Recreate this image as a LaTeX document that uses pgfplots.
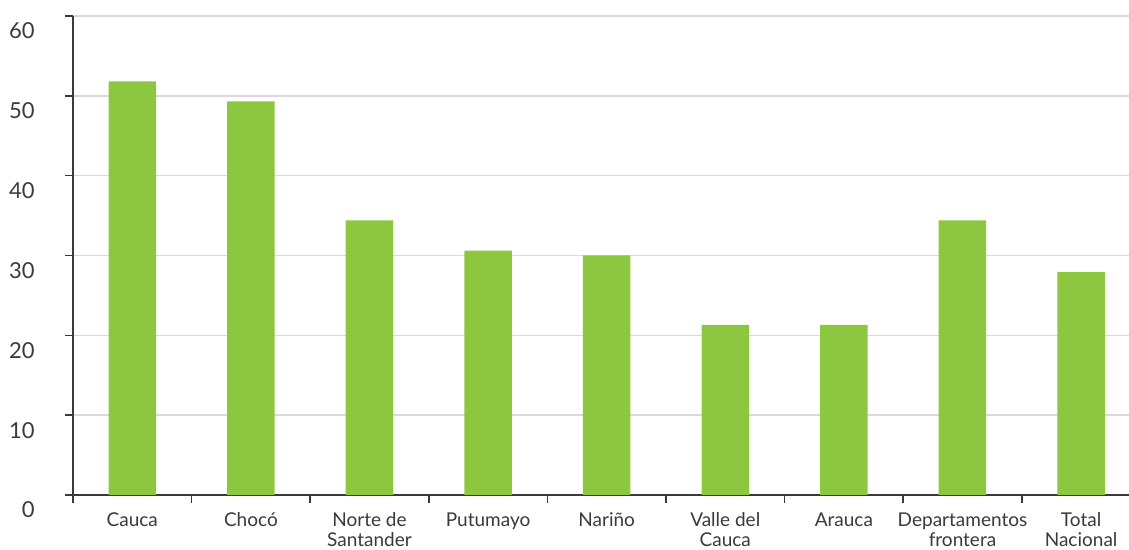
\documentclass[border=0pt]{standalone}
\usepackage{pgfplots}
\pgfplotsset{compat=1.18}
\usepackage{fontspec}
\setmainfont{Lato}
\definecolor{barg}{HTML}{8DC63F}
\definecolor{txt}{HTML}{3A3A3A}
\definecolor{gridc}{HTML}{DADADA}
\newcommand\sx{\rule{0pt}{9pt}}
\begin{document}
\begin{tikzpicture}
\useasboundingbox (-36.5pt,-27.5pt) rectangle (528pt,247.5pt);
\begin{axis}[
  at={(0pt,0pt)}, anchor=south west,
  width=528pt, height=239.5pt, scale only axis,
  xmin=-0.5, xmax=8.404, ymin=0, ymax=60,
  axis lines=left, axis line style={-, draw=txt, line width=0.75pt},
  ytick={0,10,...,60}, ymajorgrids, grid style={draw=gridc, line width=0.75pt},
  xtick={-0.5,0.5,...,7.5}, xticklabels={},
  tick align=outside, major tick length=4pt, tick style={draw=txt, line width=0.75pt},
  /pgf/number format/assume math mode=true,
  yticklabel style={anchor=east, inner sep=0pt, xshift=-15pt, yshift=-7.5pt, text=txt, font=\fontsize{11}{11}\selectfont},
  extra x ticks={0,1,2,3,4,5,6,7,8},
  extra x tick labels={\sx Cauca,\sx Chocó,{\sx Norte de\\Santander},\sx Putumayo,\sx Nariño,{\sx Valle del\\Cauca},\sx Arauca,{\sx Departamentos\\frontera},{\sx Total\\Nacional}},
  extra x tick style={major tick length=0pt, xmajorgrids=false,
    xticklabel style={anchor=north, inner sep=0pt, yshift=-6.8pt, align=center, text=txt, font=\fontsize{9.5}{10}\selectfont}},
  ybar, bar width=23.75pt,
]
\addplot[fill=barg, draw=none] coordinates {
  (0,51.8) (1,49.3) (2,34.4) (3,30.6) (4,30.0) (5,21.3) (6,21.3) (7,34.4) (8,27.95)
};
\end{axis}
\end{tikzpicture}
\end{document}
